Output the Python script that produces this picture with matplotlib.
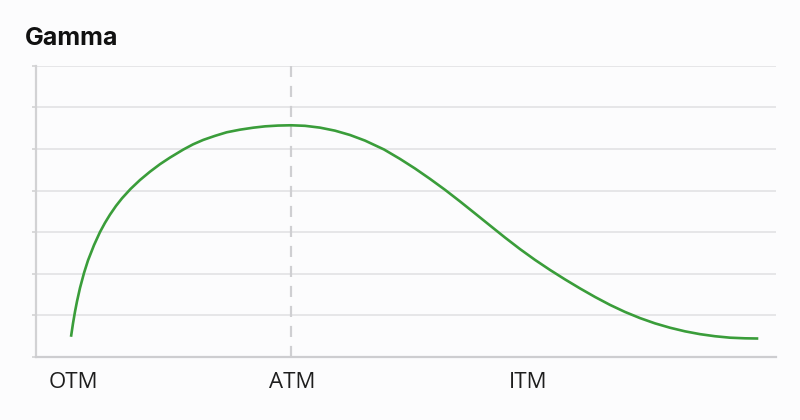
import matplotlib
matplotlib.use("Agg")
import matplotlib.pyplot as plt

# curve (x: 0-100 across the axis, y: gridline units)
moneyness = [4.730, 5.000, 5.270, 5.541, 5.946, 6.486, 7.027, 7.838, 8.649,
             9.324, 10.000, 10.811, 11.622, 12.770, 14.054, 15.405, 16.757,
             18.108, 19.905, 21.216, 22.608, 24.189, 25.770, 27.568, 29.365,
             30.946, 32.703, 34.459, 36.351, 38.378, 40.405, 42.432, 44.459,
             47.027, 49.189, 51.216, 53.243, 55.270, 57.297, 59.324, 61.351,
             63.378, 65.405, 67.432, 69.459, 71.486, 73.514, 75.541, 77.568,
             79.595, 81.622, 83.649, 85.676, 87.703, 89.730, 91.757, 93.784,
             95.811, 97.608]
gamma = [0.477, 0.800, 1.082, 1.330, 1.653, 2.012, 2.316, 2.684, 3.000,
         3.222, 3.419, 3.629, 3.812, 4.036, 4.253, 4.453, 4.634,
         4.793, 4.986, 5.111, 5.219, 5.316, 5.402, 5.465, 5.513,
         5.545, 5.564, 5.571, 5.558, 5.514, 5.441, 5.337, 5.202,
         4.988, 4.761, 4.530, 4.280, 4.017, 3.737, 3.448, 3.157,
         2.867, 2.589, 2.329, 2.087, 1.859, 1.642, 1.436, 1.245,
         1.075, 0.927, 0.800, 0.695, 0.608, 0.540, 0.490, 0.455,
         0.440, 0.435]

tick_pos = [5.0, 34.6, 66.5]
tick_labels = ['OTM', 'ATM', 'ITM']
atm = 34.46

bg = '#fcfcfd'
fig = plt.figure(figsize=(8, 4.2), dpi=100, facecolor=bg)
ax = fig.add_axes([0.045, 0.151, 0.925, 0.692], facecolor=bg)

ax.set_xlim(0, 100)
ax.set_ylim(0, 7)
ax.set_yticks(range(8))
ax.set_yticklabels([])
ax.grid(axis='y', color='#e4e4e6', linewidth=1.3)
ax.set_axisbelow(True)

ax.axvline(atm, color='#cfcfd2', linewidth=1.6, dashes=(5, 4), zorder=1)
ax.plot(moneyness, gamma, color='#3a9d3a', linewidth=1.9,
        solid_capstyle='butt', solid_joinstyle='round', zorder=3)

for s in ['top', 'right']:
    ax.spines[s].set_visible(False)
ax.spines['left'].set_color('#d2d2d4')
ax.spines['left'].set_linewidth(1.6)
ax.spines['bottom'].set_color('#cdcdd0')
ax.spines['bottom'].set_linewidth(1.6)
ax.tick_params(axis='y', length=3, width=1.2, color='#d2d2d4')

ax.set_xticks(tick_pos)
ax.set_xticklabels(tick_labels, fontsize=16, color='#1e1e1e', family='Open Sans')
ax.tick_params(axis='x', length=0, pad=11)

fig.text(0.031, 0.893, 'Gamma', fontsize=18, fontweight='bold',
         family='Inter', color='#111111', va='baseline')

fig.savefig('out.png', dpi=100, facecolor=bg)
